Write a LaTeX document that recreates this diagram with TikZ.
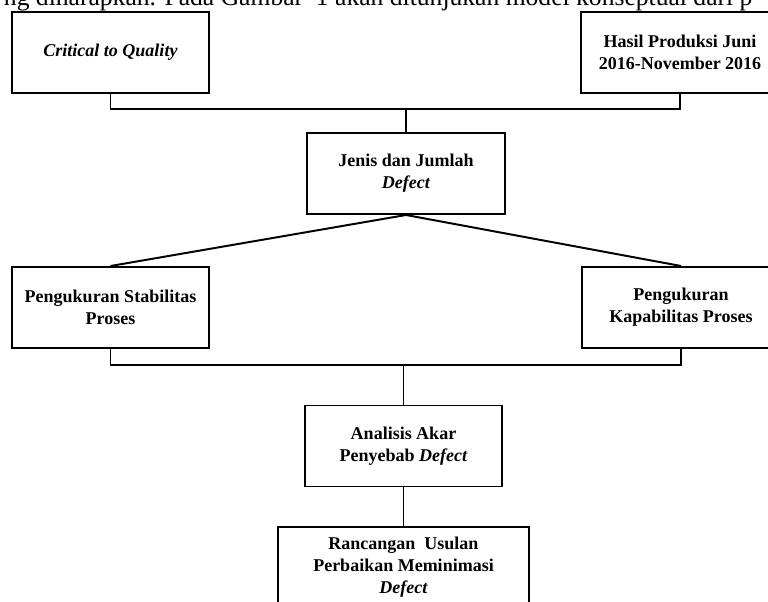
\documentclass[tikz,border=0pt]{standalone}
\usepackage{fontspec}
\setmainfont{Liberation Serif}
\usetikzlibrary{positioning}

\tikzset{kotak/.style={draw, line width=1.4pt, fill=white,
    minimum width=4.925cm, minimum height=2.025cm, align=center,
    font=\fontsize{12.8}{15.6}\selectfont\bfseries, inner sep=2pt}}

\begin{document}
\begin{tikzpicture}[x=0.025cm, y=-0.025cm, line width=1.4pt]
 \useasboundingbox (0,0) rectangle (768,602);
 \node[anchor=base west, inner sep=0, font=\fontsize{18.2}{20}\selectfont] (teks) at (3,6)
   {ng diharapkan. Pada Gambar\ \ 1 akan ditunjukan model konseptual dari p};

 % baris atas
 \node[kotak] (ctq) at (110.5,52.5) {\textit{Critical to Quality}};
 \node[kotak] (hasil) at (680,52.5) {Hasil Produksi Juni\\2016-November 2016};
 \coordinate (sambung1) at (406,109);
 \draw (ctq.south) |- (sambung1) -| (hasil.south);

 \node[kotak] (jenis) at (406,173.5) {Jenis dan Jumlah\\\textit{Defect}};
 \draw (sambung1) -- (jenis.north);

 % pengukuran
 \node[kotak] (stabil) at (110.5,307.5) {Pengukuran Stabilitas\\Proses};
 \node[kotak] (kapab) at (681,307.5) {Pengukuran\\Kapabilitas Proses};
 \draw (jenis.south) -- (stabil.north);
 \draw (jenis.south) -- (kapab.north);

 \coordinate (sambung2) at (403.5,365);
 \draw (stabil.south) |- (sambung2) -| (kapab.south);

 \node[kotak] (akar) at (403.5,446) {Analisis Akar\\Penyebab \textit{Defect}};
 \draw (sambung2) -- (akar.north);

 \node[kotak, minimum width=6.275cm] (usulan) at (403.5,567.5)
   {Rancangan\ \ Usulan\\Perbaikan Meminimasi\\\textit{Defect}};
 \draw (akar.south) -- (usulan.north);
\end{tikzpicture}
\end{document}
